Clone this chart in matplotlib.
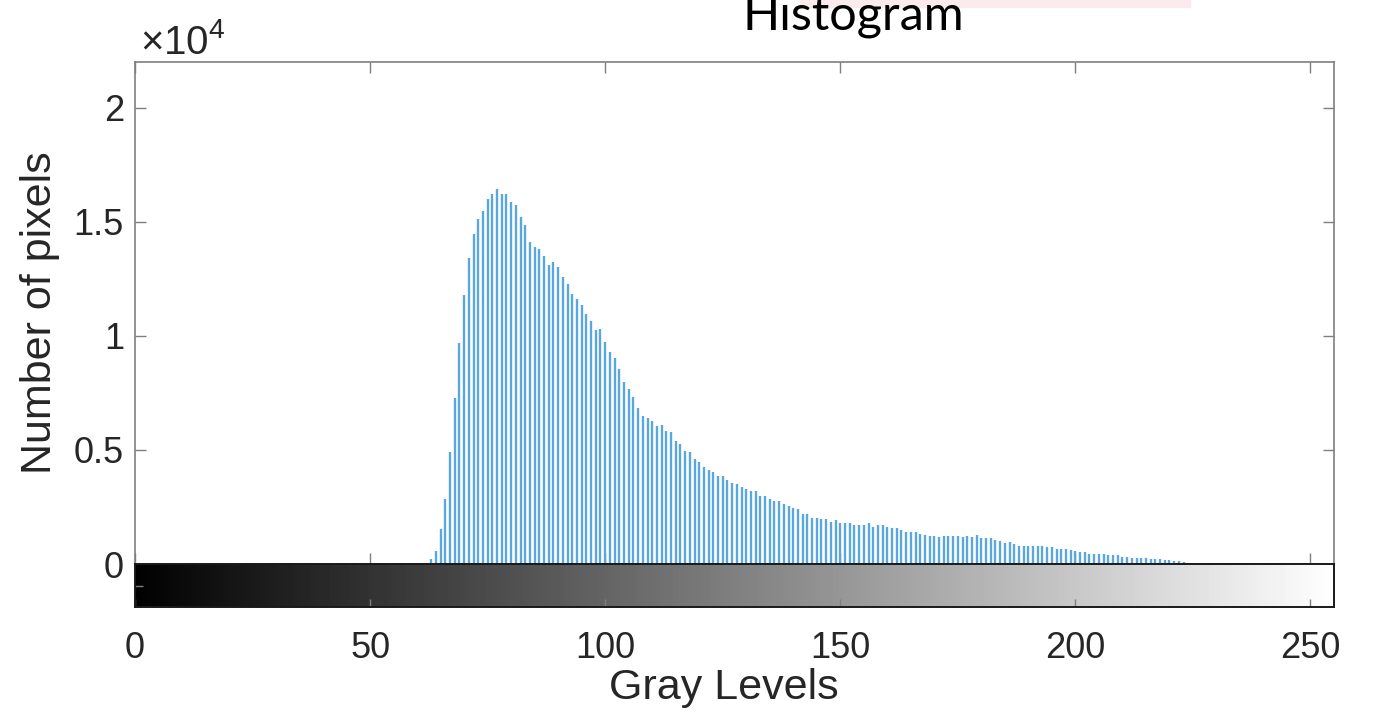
import numpy as np
import matplotlib
matplotlib.use("Agg")
import matplotlib.pyplot as plt
from matplotlib.patches import Rectangle

plt.rcParams['font.family'] = ['Liberation Sans', 'DejaVu Sans']
plt.rcParams['mathtext.fontset'] = 'custom'
plt.rcParams['mathtext.rm'] = 'Liberation Sans'

# данные гистограммы: уровни серого 63..224 и число пикселей
gray_levels = list(range(63, 225))
pixel_counts = [
    200, 570, 1520, 2850, 4920, 7290, 9690, 11800, 13400, 14460,
    15120, 15490, 16000, 16220, 16440, 16220, 16220, 15860, 15750, 15200,
    14840, 14110, 13890, 13790, 13480, 13120, 13240, 13020, 12580, 12250,
    11850, 11610, 11340, 10940, 10660, 10250, 10300, 9710, 9300, 9020,
    8540, 7980, 7660, 7340, 6830, 6500, 6400, 6250, 6040, 6100,
    5840, 5780, 5400, 5260, 4940, 4910, 4580, 4470, 4240, 4110,
    4020, 3850, 3850, 3700, 3560, 3510, 3380, 3290, 3190, 3190,
    2970, 2970, 2860, 2780, 2780, 2650, 2540, 2470, 2420, 2200,
    2200, 2000, 2000, 1960, 1960, 1850, 1910, 1780, 1780, 1780,
    1720, 1720, 1720, 1780, 1640, 1690, 1690, 1640, 1580, 1580,
    1490, 1420, 1420, 1420, 1300, 1270, 1230, 1230, 1180, 1230,
    1230, 1230, 1230, 1180, 1230, 1180, 1260, 1120, 1120, 1120,
    1070, 1010, 910, 960, 890, 790, 790, 790, 790, 790,
    790, 750, 750, 650, 650, 650, 600, 570, 540, 540,
    440, 440, 440, 440, 380, 380, 380, 310, 310, 280,
    280, 280, 280, 210, 210, 210, 180, 160, 140, 110,
    70, 30,
]
y_ticks = [0, 5000, 10000, 15000, 20000]
x_ticks = [0, 50, 100, 150, 200, 250]
gradient = np.arange(256)

axis_color = '#262626'
stem_color = '#5aa7de'

fig = plt.figure(figsize=(13.8, 7.11), dpi=100)

# бледная розовая полоса сверху (фон слайда)
fig.patches.append(Rectangle((800 / 1380, 1 - 7 / 711), 390 / 1380, 7 / 711,
                             transform=fig.transFigure, color='#fbebee', zorder=0))

ax = fig.add_axes([135 / 1380, 147 / 711, 1199 / 1380, 502 / 711])
ax.vlines(gray_levels, 0, pixel_counts, color=stem_color, linewidth=1.7)
ax.set_xlim(0, 255)
ax.set_ylim(0, 22000)
ax.set_yticks(y_ticks)
ax.set_yticklabels([f'{v / 1e4:g}' for v in y_ticks])
ax.set_xticks(x_ticks)
ax.tick_params(axis='x', labelbottom=False, top=True, direction='in',
               length=8, width=1, color='#7f7f7f')
ax.tick_params(axis='y', right=True, direction='in', length=8, width=1,
               color='#7f7f7f', labelsize=26, labelcolor=axis_color, pad=8)
for s in ax.spines.values():
    s.set_color('#7f7f7f')
    s.set_linewidth(1.2)
ax.set_ylabel('Number of pixels', fontsize=31, color=axis_color, labelpad=10)
ax.text(0.004, 1.0, r'$\times10^{4}$', transform=ax.transAxes, fontsize=29,
        color=axis_color, va='bottom', ha='left')

# полоса с градиентом серого под гистограммой
cax = fig.add_axes([135 / 1380, 104 / 711, 1199 / 1380, 43 / 711])
cax.imshow(gradient[None, :], cmap='gray', aspect='auto',
           extent=[-0.5, 255.5, 0, 1], vmin=0, vmax=255)
cax.set_xlim(0, 255)
cax.set_ylim(0, 1)
cax.set_xticks(x_ticks)
cax.set_yticks([0.5])
cax.set_yticklabels([])
cax.tick_params(axis='x', direction='in', length=6, width=1, color='#7f7f7f',
                labelsize=26, labelcolor=axis_color, pad=17)
cax.tick_params(axis='y', direction='in', length=6, width=1, color='#7f7f7f')
for s in cax.spines.values():
    s.set_color('#1a1a1a')
    s.set_linewidth(1.4)
cax.set_xlabel('Gray Levels', fontsize=31, color=axis_color, labelpad=0)
cax.xaxis.set_label_coords(0.491, -1.42)

fig.text(853 / 1380, 1 - 29 / 711, 'Histogram', ha='center', va='baseline',
         fontsize=35, family='Lato', color='black')

fig.savefig('out.png', dpi=100)
